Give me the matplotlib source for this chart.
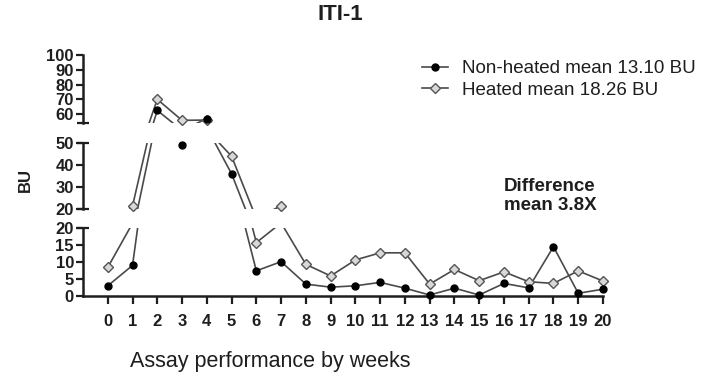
import matplotlib
matplotlib.use("Agg")
import matplotlib.pyplot as plt

plt.rcParams['font.family'] = ['Liberation Sans', 'DejaVu Sans']

weeks = list(range(21))
non_heated = [3.0, 9.0, 62.5, 49.0, 57.0, 36.0, 7.4, 10.1, 3.5, 2.6, 3.0, 4.0, 2.3, 0.3,
              2.3, 0.3, 3.7, 2.4, 14.5, 0.8, 2.0]
heated = [8.4, 21.4, 70.0, 55.8, 56.0, 44.0, 15.7, 21.5, 9.3, 5.9, 10.6, 12.7, 12.7, 3.5,
          7.8, 4.5, 7.1, 4.2, 3.7, 7.4, 4.4]

labels = ["Non-heated mean 13.10 BU", "Heated mean 18.26 BU"]
xtick_labels = [str(w) for w in weeks]

# three stacked panels: (ylim, ticks, cap ends)
panels = [
    ((54, 100), [60, 70, 80, 90, 100], [54]),
    ((20, 50), [20, 30, 40, 50], [20, 50]),
    ((0, 20), [0, 5, 10, 15, 20], [20]),
]
# figure-pixel boxes (top, bottom) for each panel
boxes = [(55, 123), (143, 209), (228, 296)]

W, H = 710, 377
fig = plt.figure(figsize=(W / 100, H / 100), dpi=100)

left_px, right_px = 83, 603
line_col = '#4a4a4a'
txt_col = '#1e1e1e'

axes = []
for (ylim, ticks, caps), (top, bot) in zip(panels, boxes):
    ax = fig.add_axes([left_px / W, 1 - bot / H, (right_px - left_px) / W, (bot - top) / H])
    ax.set_xlim(-1, 20)
    ax.set_ylim(*ylim)

    # connecting lines, clipped to this panel
    ax.plot(weeks, non_heated, color=line_col, lw=1.2, zorder=2)
    ax.plot(weeks, heated, color=line_col, lw=1.2, zorder=2)

    # markers for the points that fall inside this panel
    lo, hi = ylim
    xs = [w for w, v in zip(weeks, heated) if lo - 0.5 <= v <= hi]
    ys = [v for v in heated if lo - 0.5 <= v <= hi]
    ax.plot(xs, ys, ls='none', marker='D', ms=5.2, mfc='#d8d8d8', mec='#555555',
            mew=1.0, clip_on=False, zorder=3)
    xs = [w for w, v in zip(weeks, non_heated) if lo - 0.5 <= v <= hi]
    ys = [v for v in non_heated if lo - 0.5 <= v <= hi]
    ax.plot(xs, ys, ls='none', marker='o', ms=5, mfc='black', mec='black',
            clip_on=False, zorder=4)

    for s in ['top', 'right', 'bottom']:
        ax.spines[s].set_visible(False)
    ax.spines['left'].set_linewidth(1.8)
    ax.spines['left'].set_color(txt_col)

    ax.set_yticks(ticks)
    ax.set_yticklabels([str(t) for t in ticks], fontsize=12, fontweight='bold', color=txt_col)
    ax.yaxis.remove_overlapping_locs = False
    ax.set_yticks(caps, minor=True)
    ax.tick_params(axis='y', which='major', direction='out', length=5, width=1.6,
                   pad=1.5, color=txt_col)
    ax.tick_params(axis='y', which='minor', direction='inout', length=9, width=1.6,
                   color=txt_col)
    ax.set_xticks([])
    ax.patch.set_visible(False)
    axes.append(ax)

# x axis only on the bottom panel
axb = axes[-1]
axb.spines['bottom'].set_visible(True)
axb.spines['bottom'].set_linewidth(1.8)
axb.spines['bottom'].set_color(txt_col)
axb.set_xticks(weeks)
axb.set_xticklabels(xtick_labels, fontsize=12, fontweight='bold', color=txt_col)
axb.tick_params(axis='x', direction='out', length=6, width=1.6, pad=7, color=txt_col)

# legend
h1, = axes[0].plot([], [], color=line_col, lw=1.2, marker='o', ms=5, mfc='black', mec='black')
h2, = axes[0].plot([], [], color=line_col, lw=1.2, marker='D', ms=5.2, mfc='#d8d8d8',
                   mec='#555555', mew=1.0)
fig.legend([h1, h2], labels, loc='upper left', bbox_to_anchor=(422 / W, 1 - 60 / H),
           frameon=False, fontsize=13.5, handlelength=1.4, handletextpad=0.75,
           labelspacing=0.25, borderpad=0, borderaxespad=0, labelcolor=txt_col)

fig.text(340 / W, 1 - 15 / H, "ITI-1", ha='center', va='center', fontsize=16,
         fontweight='bold', color=txt_col)
fig.text(25 / W, 1 - 180 / H, "BU", ha='center', va='center', rotation=90, fontsize=12,
         fontweight='bold', color=txt_col)
fig.text(270 / W, 1 - 362 / H, "Assay performance by weeks", ha='center', va='center',
         fontsize=15.5, color=txt_col)
fig.text(550 / W, 1 - 196 / H, "Difference\nmean 3.8X", ha='center', va='center',
         multialignment='center', fontsize=13.5, fontweight='bold', color=txt_col,
         linespacing=1.15)

fig.savefig("out.png", dpi=100)
